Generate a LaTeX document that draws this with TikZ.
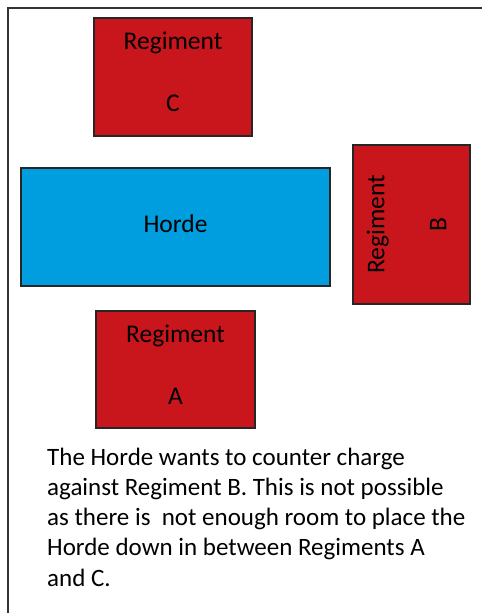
\documentclass[tikz,border=0pt]{standalone}
\usepackage{fontspec}
\setmainfont{Carlito}
\usepackage{tikz}
\usetikzlibrary{positioning,calc}
\definecolor{regred}{RGB}{200,22,28}
\definecolor{hordeblue}{RGB}{0,157,223}

\begin{document}
\begin{tikzpicture}[x=1pt,y=-1pt]
\tikzset{unit/.style={draw=black!85,line width=1.3pt,inner sep=0pt}}
\tikzset{regiment/.style={unit,fill=regred}}
\tikzset{horde/.style={unit,fill=hordeblue}}
\tikzset{caption/.style={font=\fontsize{25.5}{30}\selectfont,align=center,inner sep=0pt}}
\tikzset{note/.style={font=\fontsize{25}{30.2}\selectfont,align=left,inner sep=0pt}}
\useasboundingbox (0,0) rectangle (482,613);
\draw[line width=2.2pt,black!80] (8,613) -- (8,8) -- (482,8);
% the units
\node[regiment,minimum width=158pt,minimum height=118pt] (regC) at (173,77) {};
\node[regiment,minimum width=117pt,minimum height=159pt] (regB) at (411.5,224.5) {};
\node[horde,minimum width=309pt,minimum height=118pt] (horde) at (175.5,227) {};
\node[regiment,minimum width=159pt,minimum height=117pt] (regA) at (175.5,369.5) {};
% their names
\node[caption] at ([yshift=5pt]regC.center) {Regiment\\[32pt]C};
\node[caption,rotate=90] at ([xshift=-5pt]regB.center) {Regiment\\[32pt]B};
\node[caption] at ([yshift=3pt]horde.center) {Horde};
\node[caption] at ([yshift=5pt]regA.center) {Regiment\\[32pt]A};
% the text under the units (base is the last line)
\node[note,anchor=base west] (why) at (47,586) {The Horde wants to counter charge\\
against Regiment B. This is not possible\\
as there is\ \ not enough room to place the\\
Horde down in between Regiments A\\
and C.};
\end{tikzpicture}
\end{document}
